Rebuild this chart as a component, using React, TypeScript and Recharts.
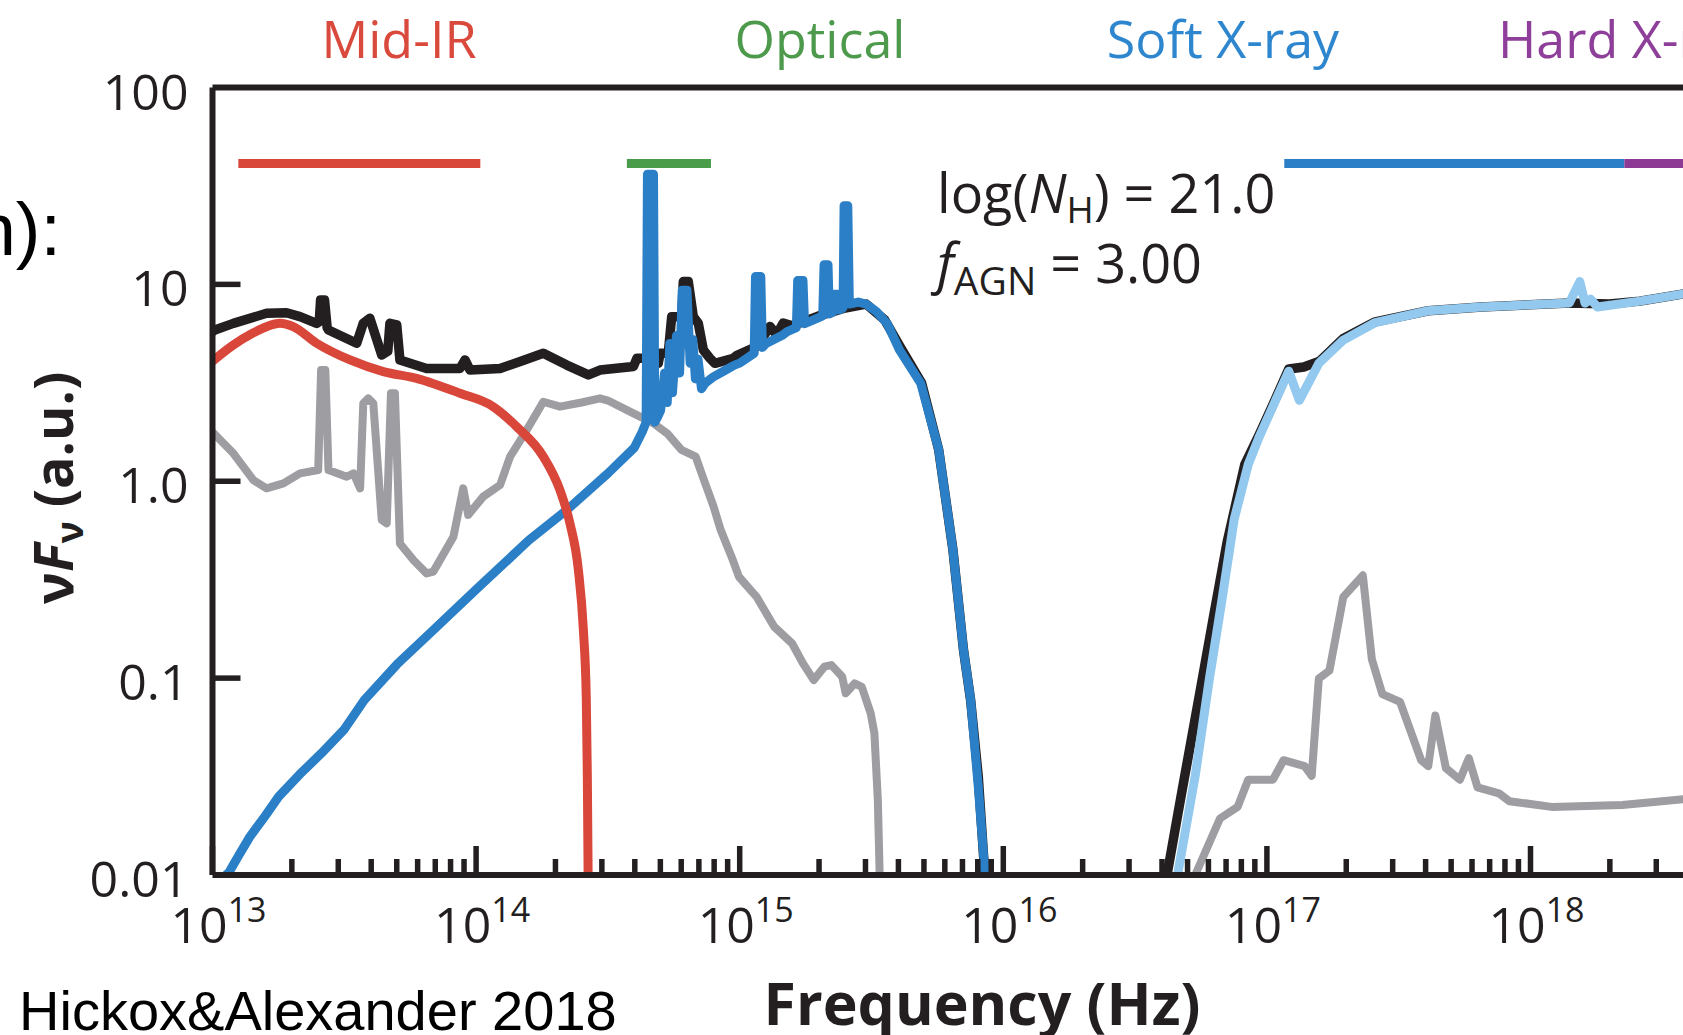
import { LineChart, Line, XAxis, YAxis, ReferenceLine } from "recharts";

type Pt = [number, number];

// x = log10(frequency / Hz), y = log10(nuF_nu / a.u.)
const decades = [13, 14, 15, 16, 17, 18, 19];
const minorSteps = [1, 2, 3, 4, 5, 6, 7, 8, 9];
const yTicks = [-2, -1, 0, 1, 2];
const yTickLabels = ["0.01", "0.1", "1.0", "10", "100"];

const totalLow: Pt[] = [
  [13.0, 0.76], [13.009, 0.768], [13.079, 0.802], [13.205, 0.853], [13.281, 0.856], [13.332, 0.836],
  [13.395, 0.802], [13.405, 0.81], [13.41, 0.921], [13.425, 0.921], [13.435, 0.78], [13.44, 0.768],
  [13.547, 0.701], [13.572, 0.802], [13.597, 0.828], [13.642, 0.641], [13.665, 0.66], [13.673, 0.802],
  [13.699, 0.794], [13.711, 0.616], [13.812, 0.573], [13.939, 0.573], [13.958, 0.616], [13.977, 0.565],
  [14.091, 0.573], [14.17, 0.61], [14.255, 0.65], [14.344, 0.59], [14.426, 0.54], [14.47, 0.565],
  [14.597, 0.583], [14.61, 0.625], [14.641, 0.625], [14.66, 0.62], [14.691, 0.599], [14.698, 0.65],
  [14.729, 0.65], [14.742, 0.836], [14.78, 0.836], [14.786, 1.014], [14.805, 1.014], [14.824, 0.836],
  [14.843, 0.802], [14.862, 0.667], [14.887, 0.625], [14.906, 0.599], [14.976, 0.625], [14.99, 0.64],
  [15.064, 0.684], [15.115, 0.786], [15.14, 0.744], [15.165, 0.803], [15.2, 0.79], [15.3, 0.84],
  [15.4, 0.88], [15.48, 0.9], [15.55, 0.82], [15.61, 0.68], [15.69, 0.5], [15.755, 0.159],
  [15.809, -0.349], [15.849, -0.857], [15.876, -1.111], [15.905, -1.5], [15.93, -2.0],
];

const totalXray: Pt[] = [
  [16.621, -2.0], [16.675, -1.595], [16.742, -1.101], [16.795, -0.706], [16.849, -0.31], [16.916, 0.085],
  [16.97, 0.235], [17.023, 0.39], [17.083, 0.57], [17.14, 0.58], [17.2, 0.61], [17.29, 0.725],
  [17.411, 0.81], [17.612, 0.866], [17.813, 0.885], [18.147, 0.905], [18.3, 0.9], [18.415, 0.915],
  [18.62, 0.96],
];

const agnDisk: Pt[] = [
  [13.049, -2.0], [13.061, -1.99], [13.1, -1.9], [13.142, -1.805], [13.2, -1.7], [13.251, -1.602],
  [13.33, -1.49], [13.413, -1.382], [13.5, -1.26], [13.576, -1.111], [13.7, -0.93], [13.838, -0.756],
  [14.0, -0.55], [14.2, -0.3], [14.344, -0.146], [14.5, 0.04], [14.6, 0.17], [14.63, 0.25],
  [14.645, 0.3], [14.65, 1.56], [14.673, 1.56], [14.678, 0.3], [14.69, 0.33], [14.7, 0.36],
  [14.715, 0.55], [14.725, 0.4], [14.735, 0.7], [14.745, 0.45], [14.76, 0.74], [14.772, 0.55],
  [14.782, 0.97], [14.8, 0.97], [14.812, 0.6], [14.822, 0.72], [14.832, 0.52], [14.842, 0.62],
  [14.855, 0.47], [14.87, 0.5], [14.9, 0.53], [14.94, 0.56], [14.98, 0.59], [15.0, 0.6],
  [15.055, 0.65], [15.06, 1.04], [15.08, 1.04], [15.086, 0.68], [15.1, 0.7], [15.13, 0.72],
  [15.16, 0.74], [15.18, 0.76], [15.215, 0.78], [15.22, 1.02], [15.24, 1.02], [15.246, 0.8],
  [15.28, 0.82], [15.315, 0.84], [15.32, 1.1], [15.335, 1.1], [15.34, 0.85], [15.355, 0.86],
  [15.36, 0.95], [15.372, 0.95], [15.378, 0.87], [15.392, 0.88], [15.396, 1.4], [15.41, 1.4],
  [15.416, 0.9], [15.45, 0.91], [15.48, 0.9], [15.52, 0.86], [15.56, 0.8], [15.606, 0.667],
  [15.687, 0.497], [15.755, 0.159], [15.809, -0.349], [15.849, -0.857], [15.876, -1.111],
  [15.905, -1.55], [15.931, -2.0],
];

const agnTorus: Pt[] = [
  [13.0, 0.61], [13.079, 0.692], [13.15, 0.75], [13.205, 0.785], [13.256, 0.802], [13.306, 0.785],
  [13.395, 0.701], [13.522, 0.616], [13.648, 0.557], [13.774, 0.523], [13.939, 0.447], [14.065, 0.379],
  [14.154, 0.277], [14.255, 0.125], [14.318, -0.045], [14.356, -0.214], [14.388, -0.451],
  [14.407, -0.756], [14.418, -1.1], [14.422, -1.5], [14.425, -2.0],
];

const hostLow: Pt[] = [
  [13.0, 0.25], [13.079, 0.142], [13.155, 0.006], [13.205, -0.036], [13.269, -0.011], [13.332, 0.04],
  [13.401, 0.057], [13.412, 0.565], [13.428, 0.565], [13.44, 0.057], [13.509, 0.023], [13.535, 0.04],
  [13.56, -0.036], [13.572, 0.396], [13.591, 0.421], [13.61, 0.396], [13.642, -0.197], [13.661, -0.214],
  [13.677, 0.447], [13.692, 0.447], [13.711, -0.316], [13.762, -0.4], [13.812, -0.468], [13.838, -0.459],
  [13.914, -0.282], [13.951, -0.036], [13.97, -0.171], [14.027, -0.078], [14.091, -0.019], [14.129, 0.125],
  [14.192, 0.26], [14.255, 0.404], [14.318, 0.379], [14.4, 0.4], [14.47, 0.421], [14.5, 0.41],
  [14.597, 0.345], [14.673, 0.294], [14.725, 0.243], [14.779, 0.159], [14.833, 0.125], [14.86, 0.023],
  [14.901, -0.129], [14.928, -0.248], [14.969, -0.383], [14.997, -0.485], [15.064, -0.587],
  [15.131, -0.739], [15.199, -0.824], [15.24, -0.925], [15.281, -1.01], [15.321, -0.942],
  [15.348, -0.934], [15.389, -0.993], [15.402, -1.077], [15.436, -1.027], [15.463, -1.044],
  [15.497, -1.179], [15.511, -1.28], [15.524, -1.619], [15.531, -2.0],
];

const hostXray: Pt[] = [
  [16.728, -2.0], [16.822, -1.713], [16.889, -1.654], [16.929, -1.516], [17.023, -1.516], [17.063, -1.417],
  [17.143, -1.447], [17.17, -1.496], [17.197, -1.002], [17.237, -0.962], [17.29, -0.587], [17.364, -0.478],
  [17.398, -0.903], [17.438, -1.081], [17.505, -1.121], [17.585, -1.417], [17.612, -1.447], [17.639, -1.19],
  [17.679, -1.457], [17.732, -1.516], [17.766, -1.407], [17.799, -1.555], [17.88, -1.585], [17.92, -1.625],
  [18.08, -1.654], [18.348, -1.644], [18.62, -1.61],
];

const agnXray: Pt[] = [
  [16.661, -2.0], [16.728, -1.496], [16.782, -1.002], [16.829, -0.607], [16.876, -0.192], [16.929, 0.085],
  [16.97, 0.223], [17.023, 0.381], [17.083, 0.559], [17.123, 0.411], [17.197, 0.599], [17.29, 0.717],
  [17.411, 0.806], [17.612, 0.866], [17.813, 0.885], [18.147, 0.905], [18.187, 1.014], [18.207, 0.905],
  [18.228, 0.925], [18.254, 0.885], [18.415, 0.915], [18.62, 0.96],
];

// wavelength bands drawn across the top: [from, to, level]
const bandMidIR = [13.098, 14.016, 1.614];
const bandOptical = [14.572, 14.891, 1.614];
const bandSoftX = [17.066, 18.356, 1.614];
const bandHardX = [18.356, 18.7, 1.614];

const toRows = (pts: Pt[]) => pts.map(([x, y]) => ({ x, y }));

const xTicks = decades.flatMap((d) => minorSteps.map((k) => d + Math.log10(k))).filter((v) => v <= 19);
const isMajor = (v: number) => Math.abs(v - Math.round(v)) < 1e-6;

const INK = "#231f20";
const SANS = "'Open Sans', 'Noto Sans', sans-serif";

const BottomTick = (props: any) => {
  const { x, y, payload } = props;
  const v = payload.value;
  const major = isMajor(v);
  return (
    <g>
      <line x1={x} x2={x} y1={y} y2={y - (major ? 29 : 16)} stroke={INK} strokeWidth={5.5} />
      {major && (
        <text x={x + 6} y={y + 68} textAnchor="middle" fontFamily={SANS} fontSize={50} fill={INK}>
          10<tspan fontSize={34} dy={-21}>{Math.round(v)}</tspan>
        </text>
      )}
    </g>
  );
};

const TopTick = (props: any) => {
  const { x, y, payload } = props;
  const major = isMajor(payload.value);
  return <line x1={x} x2={x} y1={y} y2={y + (major ? 29 : 16)} stroke={INK} strokeWidth={5.5} />;
};

const LeftTick = (props: any) => {
  const { x, y, payload } = props;
  const i = yTicks.indexOf(payload.value);
  const inner = payload.value > -2 && payload.value < 2;
  return (
    <g>
      {inner && <line x1={x} x2={x + 28} y1={y} y2={y} stroke={INK} strokeWidth={5.5} />}
      <text x={x - 24} y={y + 22} textAnchor="end" fontFamily={SANS} fontSize={50} fill={INK}>
        {yTickLabels[i]}
      </text>
    </g>
  );
};

const band = (b: number[], color: string, key: string) => (
  <ReferenceLine
    key={key}
    xAxisId="b"
    segment={[{ x: b[0], y: b[2] }, { x: b[1], y: b[2] }]}
    stroke={color}
    strokeWidth={9}
  />
);

const series = (pts: Pt[], color: string, width: number, type: "linear" | "monotone" = "linear") => (
  <Line
    xAxisId="b"
    dataKey="y"
    data={toRows(pts)}
    type={type}
    stroke={color}
    strokeWidth={width}
    strokeLinejoin="round"
    dot={false}
    activeDot={false}
    isAnimationActive={false}
  />
);

export default function App() {
  return (
    <div style={{ position: "absolute", left: 0, top: 0, width: 1683, height: 1035, overflow: "hidden", background: "#fff" }}>
      <LineChart width={1800} height={1035} margin={{ top: 57.5, right: 5.9, bottom: 100, left: 112.5 }}>
        <XAxis
          xAxisId="b"
          dataKey="x"
          type="number"
          domain={[13, 19]}
          ticks={xTicks}
          interval={0}
          height={60}
          tickSize={0}
          tickMargin={0}
          tick={<BottomTick />}
          axisLine={{ stroke: INK, strokeWidth: 6 }}
          allowDataOverflow
        />
        <XAxis
          xAxisId="t"
          orientation="top"
          type="number"
          domain={[13, 19]}
          ticks={xTicks}
          interval={0}
          height={30}
          tickSize={0}
          tickMargin={0}
          tick={<TopTick />}
          axisLine={{ stroke: INK, strokeWidth: 6 }}
          allowDataOverflow
        />
        <YAxis
          type="number"
          domain={[-2, 2]}
          ticks={yTicks}
          interval={0}
          width={100}
          tickSize={0}
          tickMargin={0}
          tick={<LeftTick />}
          axisLine={{ stroke: INK, strokeWidth: 6 }}
          allowDataOverflow
        />
        {band(bandMidIR, "#d9473b", "mir")}
        {band(bandOptical, "#4a9b4a", "opt")}
        {band(bandSoftX, "#2a7fc6", "sx")}
        {band(bandHardX, "#8d3a95", "hx")}
        {series(hostLow, "#9d9da2", 8)}
        {series(hostXray, "#9d9da2", 8)}
        {series(totalLow, INK, 9.5)}
        {series(totalXray, INK, 9.5)}
        {series(agnDisk, "#2a7fc6", 9)}
        {series(agnTorus, "#d9473b", 9, "monotone")}
        {series(agnXray, "#93c9ee", 9)}
      </LineChart>

      <svg width={1683} height={1035} style={{ position: "absolute", left: 0, top: 0, pointerEvents: "none" }}>
        <g fontFamily={SANS} fontSize={52}>
          <text x={399} y={58} textAnchor="middle" fill="#d94a3c">Mid-IR</text>
          <text x={820} y={58} textAnchor="middle" fill="#4d9a4c">Optical</text>
          <text x={1223} y={58} textAnchor="middle" fill="#2e86cf">Soft X-ray</text>
          <text x={1498} y={58} fill="#8e3f99">Hard X-ray</text>
        </g>
        <g fontFamily={SANS} fontSize={54} fill={INK}>
          <text x={937} y={213}>
            log(<tspan fontStyle="italic">N</tspan>
            <tspan fontSize={37} dy={10}>H</tspan>
            <tspan dy={-10}>) = 21.0</tspan>
          </text>
          <text x={937} y={283}>
            <tspan fontStyle="italic">f</tspan>
            <tspan fontSize={39} dy={12}>AGN</tspan>
            <tspan dy={-12}> = 3.00</tspan>
          </text>
        </g>
        <text x={982} y={1025} textAnchor="middle" fontFamily={SANS} fontWeight="bold" fontSize={59} fill={INK}>
          Frequency (Hz)
        </text>
        <text transform="translate(73,488) rotate(-90)" textAnchor="middle" fontFamily={SANS} fontWeight="bold" fontSize={54} fill={INK}>
          ν<tspan fontStyle="italic">F</tspan>
          <tspan fontSize={37} dy={10}>ν</tspan>
          <tspan dy={-10}> (a.u.)</tspan>
        </text>
        <g fontFamily="'Liberation Sans', Arial, sans-serif" fill="#000">
          <text x={61} y={255} textAnchor="end" fontSize={74}>n):</text>
          <text x={19} y={1030} fontSize={56}>Hickox&amp;Alexander 2018</text>
        </g>
      </svg>
    </div>
  );
}
